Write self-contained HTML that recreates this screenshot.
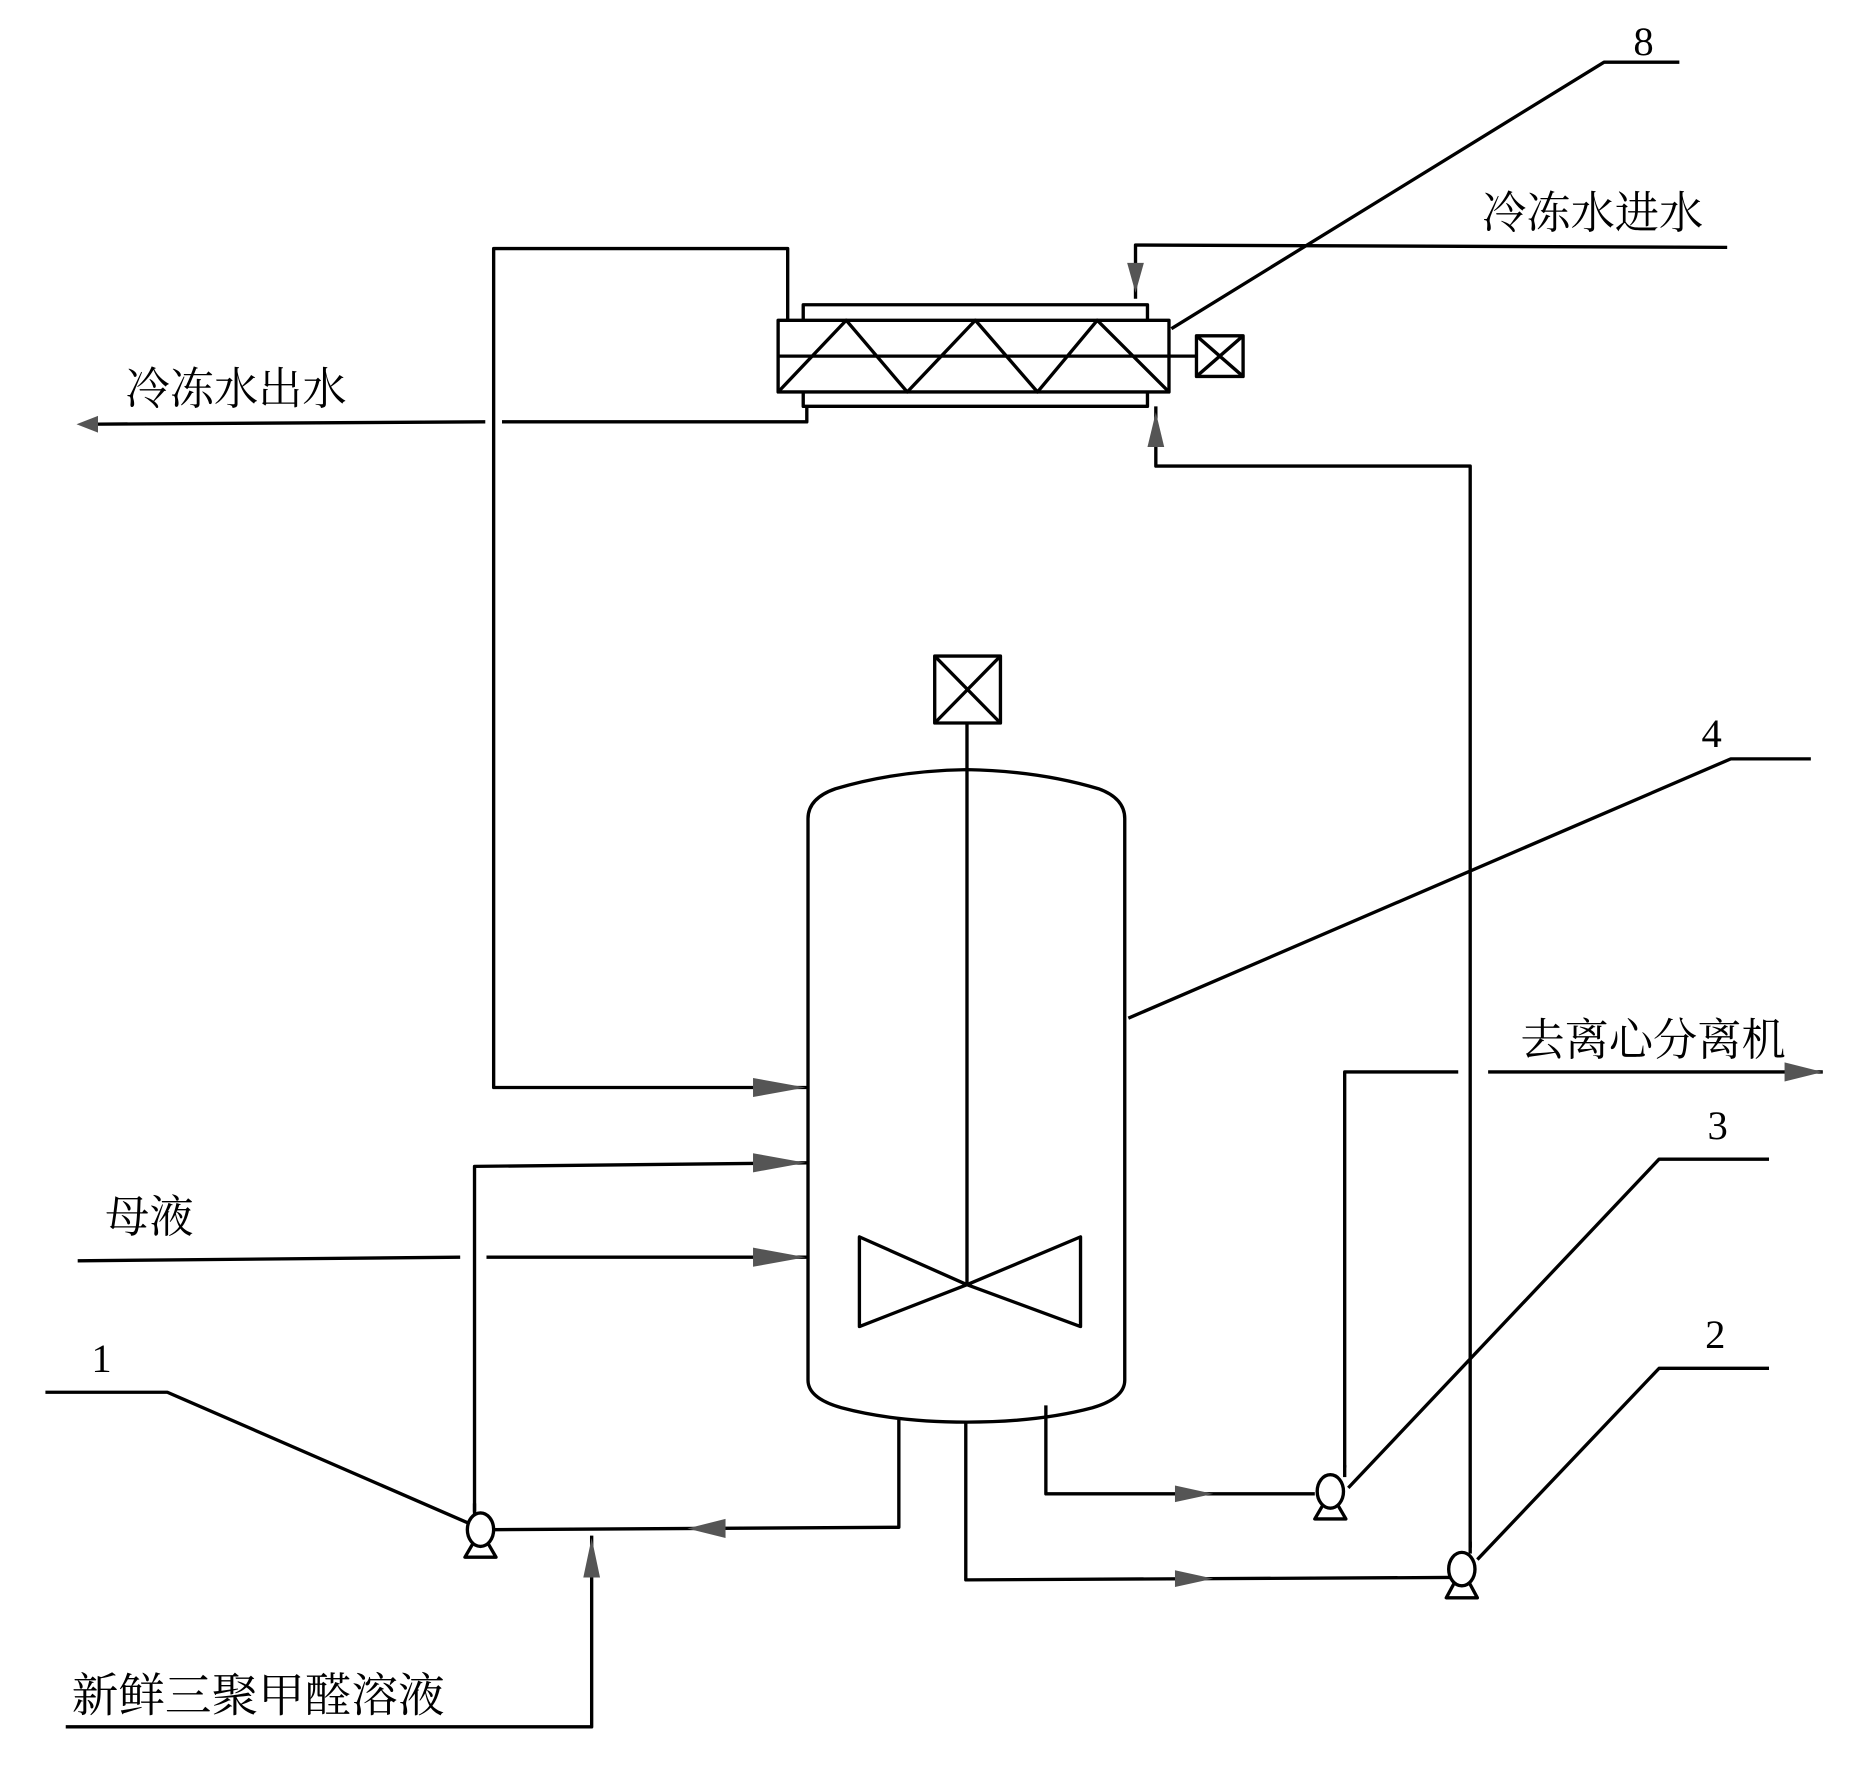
<!DOCTYPE html>
<html><head><meta charset="utf-8"><style>
html,body{margin:0;padding:0;background:#fff;}
svg{display:block;}
text{font-family:"Liberation Serif","Noto Serif CJK SC","Noto Sans CJK SC",serif;fill:#000;}
</style></head><body>
<svg width="1873" height="1789" viewBox="0 0 1567 1497" preserveAspectRatio="none" xmlns="http://www.w3.org/2000/svg">
<g fill="none" stroke="#000" stroke-width="2.8" stroke-linejoin="round">
<polyline points="1405,52 1342,52 980,275"/>
<polyline points="1445,207 950,205 950,250"/>
<path d="M943,220 L950,245 L957,220 Z" fill="#555" stroke="none"/>
<rect x="651" y="268" width="327" height="60"/>
<line x1="651" y1="298" x2="978" y2="298"/>
<polyline points="672,268 672,255 960,255 960,268"/>
<polyline points="672,328 672,340 960,340 960,328"/>
<polyline points="651,328 708,268 759,328 816,268 868,328 918,268 978,328"/>
<line x1="978" y1="298" x2="1001" y2="298"/>
<rect x="1001" y="281" width="39" height="34"/>
<line x1="1001" y1="281" x2="1040" y2="315"/><line x1="1040" y1="281" x2="1001" y2="315"/>
<polyline points="659,268 659,208 413,208 413,910 676,910"/>
<path d="M630,902 L674,910 L630,918 Z" fill="#555" stroke="none"/>
<polyline points="675,340 675,353 420,353"/>
<line x1="406" y1="353" x2="70" y2="355"/>
<path d="M82,348 L64,355 L82,362 Z" fill="#555" stroke="none"/>
<polyline points="967,340 967,390 1230,390 1230,1295"/>
<path d="M960,374 L967,345 L974,374 Z" fill="#555" stroke="none"/>
<g transform="translate(9,0)">
<path d="M667,1155 L667,685 Q667,668 690,660 Q740,645 800,644 Q860,645 910,660 Q932,668 932,685 L932,1155 Q932,1170 905,1178 Q860,1190 800,1190 Q740,1190 695,1178 Q667,1170 667,1155 Z"/>
<rect x="773" y="549" width="55" height="56"/>
<line x1="773" y1="549" x2="828" y2="605"/><line x1="828" y1="549" x2="773" y2="605"/>
<line x1="800" y1="605" x2="800" y2="1075"/>
<polygon points="710,1035 710,1110 800,1075"/>
<polygon points="895,1035 895,1110 800,1075"/>
</g>
<polyline points="1515,635 1448,635 944,852"/>
<polyline points="1125,1228 1125,897 1220,897"/>
<line x1="1245" y1="897" x2="1525" y2="897"/>
<path d="M1493,889 L1525,897 L1493,905 Z" fill="#555" stroke="none"/>
<polyline points="1480,970 1388,970 1128,1245"/>
<polyline points="1480,1145 1388,1145 1236,1305"/>
<polyline points="875,1176 875,1250 1100,1250"/>
<path d="M983,1243 L1015,1250 L983,1257 Z" fill="#555" stroke="none"/>
<polyline points="808,1190 808,1322 1213,1320"/>
<path d="M983,1314 L1015,1321 L983,1328 Z" fill="#555" stroke="none"/>
<polyline points="752,1188 752,1278 412,1280"/>
<path d="M607,1271 L575,1279 L607,1287 Z" fill="#555" stroke="none"/>
<polyline points="397,1265 397,976 676,973"/>
<path d="M630,965 L674,973 L630,981 Z" fill="#555" stroke="none"/>
<line x1="65" y1="1055" x2="385" y2="1052"/>
<line x1="407" y1="1052" x2="676" y2="1052"/>
<path d="M630,1044 L674,1052 L630,1060 Z" fill="#555" stroke="none"/>
<polyline points="38,1165 140,1165 393,1275"/>
<polyline points="55,1445 495,1445 495,1285"/>
<path d="M488,1320 L495,1287 L502,1320 Z" fill="#555" stroke="none"/>
<ellipse cx="402" cy="1280" rx="11" ry="14"/><path d="M396,1291 L389,1303 L415,1303 L408,1291"/><line x1="397" y1="1258" x2="397" y2="1267"/>
<ellipse cx="1113" cy="1248" rx="11" ry="14"/><path d="M1107,1259 L1100,1271 L1126,1271 L1119,1259"/><line x1="1125" y1="1226" x2="1125" y2="1236"/>
<ellipse cx="1223" cy="1313" rx="11" ry="14"/><path d="M1217,1324 L1210,1337 L1236,1337 L1229,1324"/><line x1="1230" y1="1290" x2="1230" y2="1300"/>
</g>
<text x="1375" y="46" font-size="34" text-anchor="middle">8</text>
<text x="1240" y="191" font-size="37">冷冻水进水</text>
<text x="105" y="338" font-size="37">冷冻水出水</text>
<text x="1432" y="625" font-size="34" text-anchor="middle">4</text>
<text x="1272" y="883" font-size="37">去离心分离机</text>
<text x="1437" y="953" font-size="34" text-anchor="middle">3</text>
<text x="88" y="1031" font-size="37">母液</text>
<text x="1435" y="1128" font-size="34" text-anchor="middle">2</text>
<text x="85" y="1148" font-size="34" text-anchor="middle">1</text>
<text x="60" y="1432" font-size="39">新鲜三聚甲醛溶液</text>
</svg>
</body></html>
